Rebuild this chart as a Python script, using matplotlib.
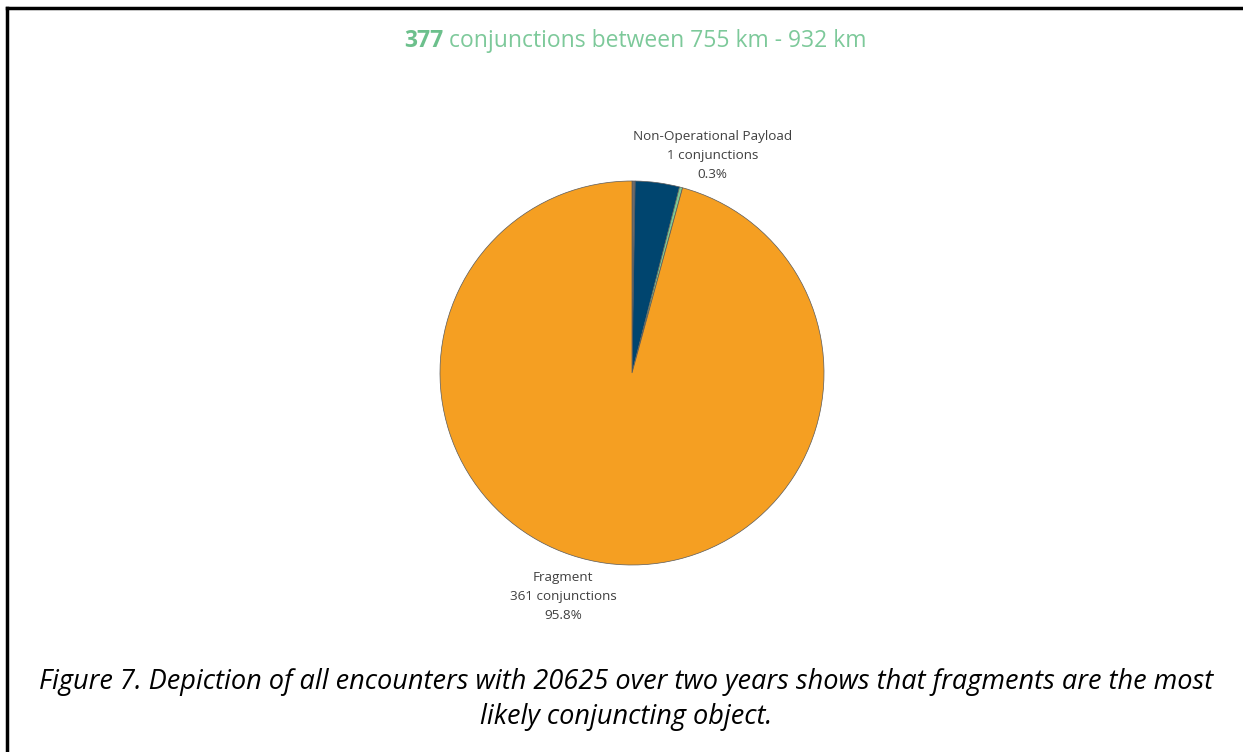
import matplotlib
matplotlib.use("Agg")
import matplotlib.pyplot as plt
from matplotlib.lines import Line2D

# data (clockwise from 12 o'clock)
categories = ['Other', 'Operational Payload', 'Non-Operational Payload', 'Fragment']
conjunctions = [1, 14, 1, 361]
colors = ['#6b6b6b', '#00456f', '#7dc995', '#f59f22']
total = sum(conjunctions)
shown = ['Non-Operational Payload', 'Fragment']

W, H = 1243, 752
fig = plt.figure(figsize=(W / 100, H / 100), dpi=100)
fig.patch.set_facecolor('white')

# frame lines (top and left)
fig.add_artist(Line2D([7 / W, 1], [1 - 8 / H, 1 - 8 / H], transform=fig.transFigure,
                      color='black', lw=2.5))
fig.add_artist(Line2D([7 / W, 7 / W], [0, 1 - 8 / H], transform=fig.transFigure,
                      color='black', lw=2.5))

# pie axes: centre (632, 373) px, radius 192 px
r = 192
cx, cy = 632, 373
ax = fig.add_axes([(cx - r) / W, (H - cy - r) / H, 2 * r / W, 2 * r / H])
wedges, _ = ax.pie(conjunctions, colors=colors, startangle=90, counterclock=False,
                   radius=1, wedgeprops=dict(edgecolor='#5a5a5a', linewidth=0.5))
ax.set_xlim(-1, 1)
ax.set_ylim(-1, 1)
ax.set_aspect('equal')
ax.axis('off')

# labels for two slices
label_pos = {'Non-Operational Payload': (0.42, 1.0), 'Fragment': (-0.36, -1.03)}
for name in shown:
    i = categories.index(name)
    n = conjunctions[i]
    txt = f"{name}\n{n} conjunctions\n{100 * n / total:.1f}%"
    x, y = label_pos[name]
    va = 'bottom' if y > 0 else 'top'
    ax.text(x, y, txt, ha='center', va=va, fontsize=9.7, color='#404040',
            family='Open Sans', linespacing=1.6, clip_on=False)

# title
t1 = fig.text(404 / W, 1 - 41 / H, str(total), color='#6cc08c', fontsize=16.5,
              fontweight='bold', family='Open Sans', va='center', ha='left')
fig.canvas.draw()
bb = t1.get_window_extent()
fig.text((bb.x1 + 6) / W, 1 - 41 / H, "conjunctions between 755 km - 932 km",
         color='#7dc99a', fontsize=16.5, family='Open Sans', va='center', ha='left')

# caption
cap1 = ("Figure 7. Depiction of all encounters with 20625 over two years shows "
        "that fragments are the most")
cap2 = "likely conjuncting object."
fig.text(626 / W, 1 - 682 / H, cap1, ha='center', va='center', fontsize=19.5,
         style='italic', family='Open Sans', color='black')
fig.text(626 / W, 1 - 717 / H, cap2, ha='center', va='center', fontsize=19.5,
         style='italic', family='Open Sans', color='black')

fig.savefig('out.png', dpi=100, facecolor='white')
